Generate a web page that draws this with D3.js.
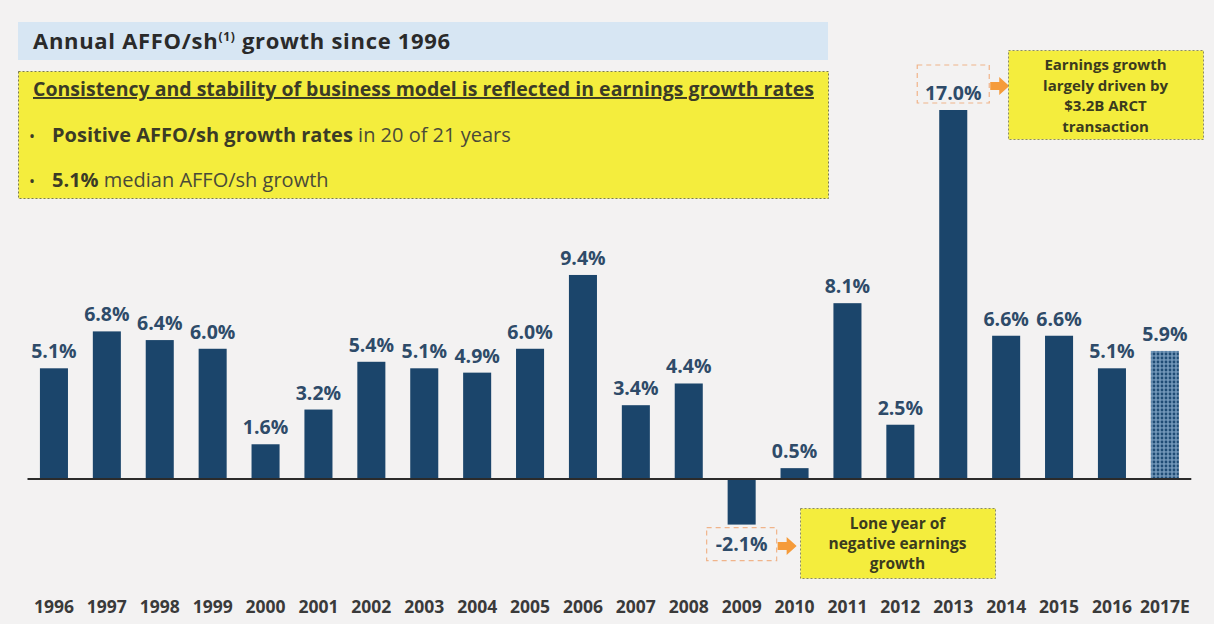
<!DOCTYPE html>
<html>
<head>
<meta charset="utf-8">
<script src="https://cdn.jsdelivr.net/npm/d3@7"></script>
<style>
  html, body { margin: 0; padding: 0; background: #f3f2f2; }
  svg { display: block; font-family: "Open Sans", Lato, sans-serif; }
</style>
</head>
<body>
<svg id="chart" width="1214" height="624"></svg>
<script>
// Annual AFFO per share growth, percent
const years = ["1996","1997","1998","1999","2000","2001","2002","2003","2004","2005","2006",
               "2007","2008","2009","2010","2011","2012","2013","2014","2015","2016","2017E"];
const growth = [5.1, 6.8, 6.4, 6.0, 1.6, 3.2, 5.4, 5.1, 4.9, 6.0, 9.4,
                3.4, 4.4, -2.1, 0.5, 8.1, 2.5, 17.0, 6.6, 6.6, 5.1, 5.9];
const estimateYears = ["2017E"];

const titleText = "Annual AFFO/sh";
const titleSup = "(1)";
const titleRest = " growth since 1996";
const headline = "Consistency and stability of business model is reflected in earnings growth rates";
const bullets = [
  { bold: "Positive AFFO/sh growth rates", rest: " in 20 of 21 years" },
  { bold: "5.1%", rest: " median AFFO/sh growth" }
];
const noteHigh = ["Earnings growth", "largely driven by", "$3.2B ARCT", "transaction"];
const noteLow = ["Lone year of", "negative earnings", "growth"];

const svg = d3.select("#chart");
const barColor = "#1b456b";
const labelColor = "#2e4b69";
const noteInk = "#3b3b1e";

// Dotted fill for the estimate bar
const defs = svg.append("defs");
const pat = defs.append("pattern")
  .attr("id", "dots").attr("patternUnits", "userSpaceOnUse")
  .attr("width", 4).attr("height", 4);
pat.append("rect").attr("width", 4).attr("height", 4).attr("fill", "#7196b8");
pat.append("circle").attr("cx", 2).attr("cy", 2).attr("r", 1.4).attr("fill", "#1f4c75");

// Scales
const x = d3.scaleBand().domain(years)
  .range([27.5, 1191.3]).paddingInner(0.47).paddingOuter(0.235);
const y = d3.scaleLinear().domain([0, 17]).range([479, 110]);

// Title band
svg.append("rect").attr("x", 18).attr("y", 22).attr("width", 810).attr("height", 38)
  .attr("fill", "#d7e6f3");
const t = svg.append("text").attr("x", 33).attr("y", 49)
  .attr("font-size", 22).attr("font-weight", 700).attr("letter-spacing", 0.7)
  .attr("fill", "#2a2a2a");
t.append("tspan").text(titleText);
t.append("tspan").attr("font-size", 12).attr("dy", -8).text(titleSup);
t.append("tspan").attr("dy", 8).text(titleRest);

// Highlight box with key points
svg.append("rect").attr("x", 18.5).attr("y", 71.5).attr("width", 810).attr("height", 127)
  .attr("fill", "#f4ed3d").attr("stroke", "#7a7a52").attr("stroke-width", 1)
  .attr("stroke-dasharray", "2,2");
svg.append("text").attr("x", 33).attr("y", 96)
  .attr("font-size", 19.5).attr("font-weight", 700).attr("fill", "#3b3b26")
  .attr("text-decoration", "underline").text(headline);
bullets.forEach((b, i) => {
  const ty = 142 + i * 45;
  svg.append("text").attr("x", 29).attr("y", ty).attr("font-size", 16)
    .attr("fill", "#3b3b26").text("•");
  const bt = svg.append("text").attr("x", 52).attr("y", ty).attr("font-size", 20)
    .attr("fill", "#3b3b26");
  bt.append("tspan").attr("font-weight", 700).text(b.bold);
  bt.append("tspan").attr("font-weight", 400).attr("fill", "#4a4a38").text(b.rest);
});

// Bars
svg.append("g").selectAll("rect").data(years).join("rect")
  .attr("x", d => x(d))
  .attr("width", x.bandwidth())
  .attr("y", (d, i) => y(Math.max(0, growth[i])))
  .attr("height", (d, i) => Math.abs(y(growth[i]) - y(0)))
  .attr("fill", d => estimateYears.includes(d) ? "url(#dots)" : barColor);

// Zero line
svg.append("line").attr("x1", x.range()[0]).attr("x2", x.range()[1])
  .attr("y1", y(0)).attr("y2", y(0)).attr("stroke", "#2b2b2b").attr("stroke-width", 2);

// Value labels
const labelY = v => v >= 0 ? y(v) - 10 : y(v) + 26;
svg.append("g").selectAll("text").data(years).join("text")
  .attr("x", d => x(d) + x.bandwidth() / 2)
  .attr("y", (d, i) => labelY(growth[i]))
  .attr("text-anchor", "middle").attr("font-size", 19.5).attr("font-weight", 700)
  .attr("fill", labelColor)
  .text((d, i) => growth[i].toFixed(1) + "%");

// Year axis
const xAxis = svg.append("g").attr("transform", "translate(0,607)")
  .call(d3.axisBottom(x).tickSize(0).tickPadding(0));
xAxis.select(".domain").remove();
xAxis.selectAll("text").attr("font-size", 17.5).attr("font-weight", 700)
  .attr("fill", "#3a3a3a").attr("font-family", "'Open Sans', sans-serif").attr("dy", "0.35em");

// Callouts: dashed frame on the value, arrow, and yellow note
function callout(year, frame, box, lines, lineGap, firstLine, fontSize) {
  const i = years.indexOf(year);
  const cx = x(year) + x.bandwidth() / 2;
  const ly = labelY(growth[i]);
  const fx = cx - frame.w / 2, fy = ly + frame.top;
  svg.append("rect").attr("x", fx).attr("y", fy).attr("width", frame.w).attr("height", frame.h)
    .attr("fill", "none").attr("stroke", "#f0b48a").attr("stroke-width", 1.2)
    .attr("stroke-dasharray", "5,4");
  const ay = fy + frame.h / 2 + 2;
  const ax = fx + frame.w + 1;
  svg.append("path")
    .attr("d", `M${ax},${ay - 4} L${ax + 9},${ay - 4} L${ax + 9},${ay - 9} L${ax + 19},${ay} L${ax + 9},${ay + 9} L${ax + 9},${ay + 4} L${ax},${ay + 4} Z`)
    .attr("fill", "#f59b3a");
  svg.append("rect").attr("x", box.x + 0.5).attr("y", box.y + 0.5).attr("width", box.w).attr("height", box.h)
    .attr("fill", "#f4ed3d").attr("stroke", "#8a8a6a").attr("stroke-dasharray", "2,2");
  svg.append("g").selectAll("text").data(lines).join("text")
    .attr("x", box.x + box.w / 2).attr("y", (d, k) => firstLine + k * lineGap)
    .attr("text-anchor", "middle").attr("font-size", fontSize).attr("font-weight", 700)
    .attr("fill", noteInk).text(d => d);
}
callout("2013", { w: 72, top: -35, h: 38 }, { x: 1008, y: 50, w: 195, h: 89 }, noteHigh, 20.6, 70, 15);
callout("2009", { w: 70, top: -23, h: 33 }, { x: 800, y: 508, w: 195, h: 70 }, noteLow, 20, 529, 15.5);
</script>
</body>
</html>
